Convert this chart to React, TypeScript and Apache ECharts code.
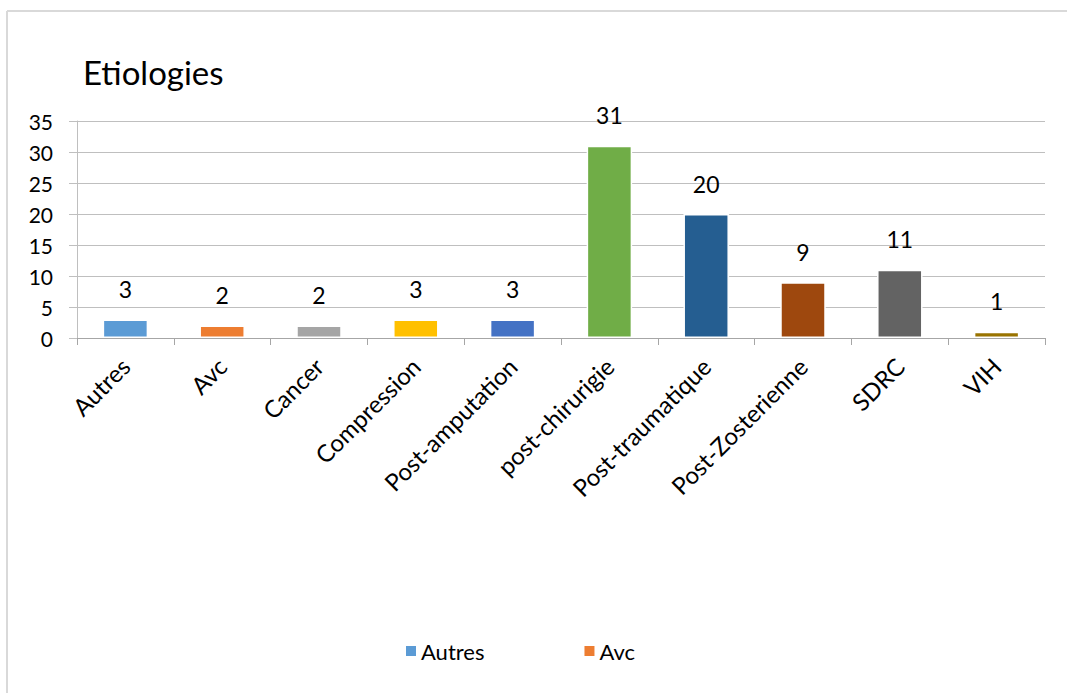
import React, { useEffect, useRef } from "react";
import * as echarts from "echarts";

const categories = [
  "Autres",
  "Avc",
  "Cancer",
  "Compression",
  "Post-amputation",
  "post-chirurigie",
  "Post-traumatique",
  "Post-Zosterienne",
  "SDRC",
  "VIH",
];
const values = [3, 2, 2, 3, 3, 31, 20, 9, 11, 1];
const barColors = [
  "#5b9bd5",
  "#ed7d31",
  "#a5a5a5",
  "#ffc000",
  "#4472c4",
  "#70ad47",
  "#255e91",
  "#9e480e",
  "#636363",
  "#997300",
];
const legendNames = ["Autres", "Avc"];
const legendColors = ["#5b9bd5", "#ed7d31"];
const titleText = "Etiologies";

const FONT = "Lato, 'Noto Sans', sans-serif";

export default function App() {
  const ref = useRef<HTMLDivElement>(null);
  useEffect(() => {
    if (!ref.current) return;
    const chart = echarts.init(ref.current, undefined, { renderer: "svg" });
    chart.setOption({
      animation: false,
      backgroundColor: "#ffffff",
      textStyle: { fontFamily: FONT },
      title: {
        text: titleText,
        left: 78,
        top: 50,
        textStyle: { fontFamily: FONT, fontSize: 33, fontWeight: "normal", color: "#000" },
      },
      graphic: [
        { type: "line", shape: { x1: 7, y1: 11, x2: 1067, y2: 11 }, style: { stroke: "#d9d9d9", lineWidth: 2 } },
        { type: "line", shape: { x1: 7, y1: 11, x2: 7, y2: 693 }, style: { stroke: "#d9d9d9", lineWidth: 2 } },
      ],
      legend: {
        data: legendNames,
        left: 401,
        top: 635,
        icon: "rect",
        itemWidth: 10,
        itemHeight: 10,
        itemGap: 100,
        textStyle: { fontFamily: FONT, fontSize: 22, color: "#000" },
      },
      grid: { left: 77, right: 22, top: 121, bottom: 355, containLabel: false },
      xAxis: {
        type: "category",
        data: categories,
        axisLine: { show: true, lineStyle: { color: "#a6a6a6", width: 1 } },
        axisTick: { show: true, length: 7, alignWithLabel: false, lineStyle: { color: "#a6a6a6" } },
        axisLabel: {
          rotate: 45,
          interval: 0,
          margin: 24,
          fontFamily: FONT,
          fontSize: 24,
          color: "#000",
        },
      },
      yAxis: {
        type: "value",
        min: 0,
        max: 35,
        interval: 5,
        axisLine: { show: true, lineStyle: { color: "#bfbfbf", width: 1 } },
        axisTick: { show: true, inside: false, length: 8, lineStyle: { color: "#bfbfbf" } },
        splitLine: { show: true, lineStyle: { color: "#bfbfbf", width: 1 } },
        axisLabel: { margin: 24, fontFamily: FONT, fontSize: 21, color: "#000" },
      },
      series: [
        {
          type: "bar",
          name: "Etiologies",
          barWidth: "47%",
          data: values.map((v, i) => ({
            value: v,
            itemStyle: { color: barColors[i], borderColor: "#ffffff", borderWidth: 1.5 },
          })),
          label: {
            show: true,
            position: "top",
            distance: 19,
            fontFamily: FONT,
            fontSize: 23,
            color: "#000",
          },
        },
        ...legendNames.map((n, i) => ({
          type: "line",
          name: n,
          data: [],
          itemStyle: { color: legendColors[i] },
          lineStyle: { color: legendColors[i] },
        })),
      ],
    });
    return () => chart.dispose();
  }, []);
  return (
    <div
      ref={ref}
      style={{ position: "absolute", left: 0, top: 0, width: 1067, height: 693 }}
    />
  );
}
